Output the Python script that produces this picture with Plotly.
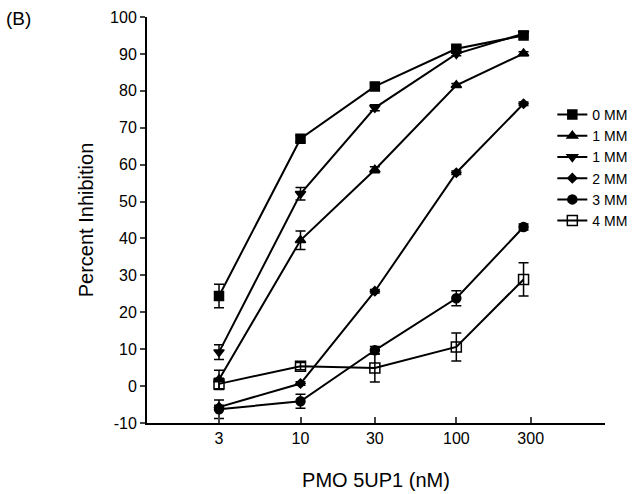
import plotly.graph_objects as go

conc = [3, 10, 30, 100, 270]
tick_vals = [3, 10, 30, 100, 300]
tick_text = ["3", "10", "30", "100", "300"]
y_tick_vals = [-10, 0, 10, 20, 30, 40, 50, 60, 70, 80, 90, 100]
y_tick_text = ["-10", "0", "10", "20", "30", "40", "50", "60", "70", "80", "90", "100"]

names = ["0 MM", "1 MM", "1 MM", "2 MM", "3 MM", "4 MM"]
mm0 = [24.4, 67.0, 81.2, 91.4, 95.0]
mm0_err = [3.2, 0.8, 0.8, 0.8, 0.5]
mm1a = [1.8, 39.5, 58.6, 81.5, 90.1]
mm1a_err = [2.5, 2.5, 0.8, 0.5, 0.5]
mm1b = [9.2, 52.1, 75.4, 90.0, 95.5]
mm1b_err = [2.0, 1.7, 0.8, 0.5, 0.5]
mm2 = [-5.7, 0.7, 25.7, 57.8, 76.5]
mm2_err = [0.5, 0.5, 0.5, 0.5, 0.5]
mm3 = [-6.3, -4.1, 9.7, 23.8, 43.1]
mm3_err = [2.5, 1.9, 1.0, 2.0, 0.8]
mm4 = [0.6, 5.4, 4.9, 10.6, 28.9]
mm4_err = [1.5, 1.0, 3.8, 3.8, 4.5]

series = [mm0, mm1a, mm1b, mm2, mm3, mm4]
errors = [mm0_err, mm1a_err, mm1b_err, mm2_err, mm3_err, mm4_err]
symbols = ["square", "triangle-up", "triangle-down", "diamond", "circle", "square-open"]
sizes = [9, 9, 9, 7, 9, 10]

fig = go.Figure()
for name, y, e, sym, sz in zip(names, series, errors, symbols, sizes):
    fig.add_trace(go.Scatter(
        x=conc, y=y, name=name, mode="lines+markers",
        line=dict(color="black", width=2),
        marker=dict(symbol=sym, size=sz, color="black",
                    line=dict(color="black", width=1.5)),
        error_y=dict(type="data", array=e, visible=True, color="black",
                     thickness=1.5, width=5),
    ))

font = "Liberation Sans, Arial, sans-serif"
fig.update_layout(
    width=634, height=494,
    margin=dict(l=147, r=29, t=17, b=71, autoexpand=False),
    plot_bgcolor="white", paper_bgcolor="white",
    font=dict(family=font, size=16, color="black"),
    showlegend=True,
    legend=dict(x=0.885, y=0.798, xanchor="left", yanchor="top",
                font=dict(size=14), bgcolor="rgba(0,0,0,0)",
                tracegroupgap=0, itemwidth=30),
    xaxis=dict(type="log", range=[0.015, 2.954], tickvals=tick_vals,
               ticktext=tick_text, ticks="inside", ticklen=6, tickwidth=1.5,
               showline=True, linecolor="black", linewidth=2,
               showgrid=False, zeroline=False,
               title=dict(text="PMO 5UP1 (nM)", font=dict(size=20), standoff=27),
               tickfont=dict(size=16)),
    yaxis=dict(range=[-10, 100], tickvals=y_tick_vals, ticktext=y_tick_text,
               ticks="outside", ticklen=5,
               tickwidth=1.5, showline=True, linecolor="black", linewidth=2,
               showgrid=False, zeroline=False,
               title=dict(text="Percent Inhibition", font=dict(size=20), standoff=11),
               tickfont=dict(size=16)),
    annotations=[dict(text="(B)", x=0, y=1, xref="paper", yref="paper",
                      showarrow=False, xanchor="left", yanchor="middle",
                      font=dict(size=19))],
)
fig.layout.annotations[0].update(x=(-147 + 4) / 458, y=1 - 1 / 406)
fig.write_html("out.html", config={"displayModeBar": False},
               post_script="document.body.style.margin='0';document.body.style.overflow='hidden';")
